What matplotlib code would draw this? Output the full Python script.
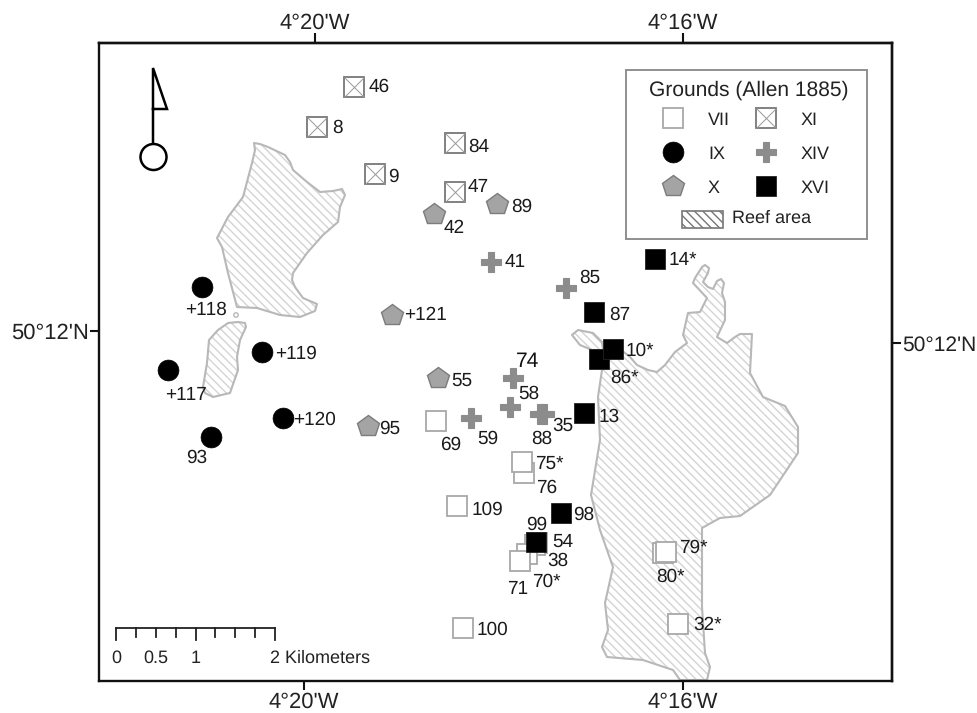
"""Map of oyster grounds and reef areas (Allen 1885). Map units are the sheet coordinates of the figure."""

import matplotlib

matplotlib.use("Agg")
import matplotlib.pyplot as plt
from matplotlib.patches import Circle, Polygon, Rectangle

plt.rcParams["font.family"] = ["Liberation Sans", "DejaVu Sans"]
plt.rcParams["hatch.linewidth"] = 1.0
plt.rcParams["text.hinting"] = "no_hinting"
plt.rcParams["text.hinting_factor"] = 1

# Outlines of the reef areas
REEF_NW = [
    (254, 143), (260, 144), (268, 147), (285, 155), (290, 162), (293, 170), (307, 182), (320, 192),
    (333, 191), (342, 189), (345, 195), (340, 207), (338, 222), (323, 235), (307, 253), (293, 273),
    (292, 280), (295, 287), (303, 298), (317, 304), (315, 311), (300, 317), (280, 315), (257, 308),
    (237, 307), (228, 273), (222, 247), (217, 238), (228, 217), (243, 197), (252, 163), (255, 150),
]
REEF_W = [
    (228, 323), (238, 322), (245, 323), (246, 327), (240, 340), (237, 357), (238, 370), (230, 393),
    (213, 397), (205, 393), (203, 387), (207, 363), (209, 340), (218, 330),
]
REEF_SPIT = [
    (572, 335), (578, 330), (593, 333), (602, 342), (603, 350), (592, 350), (580, 345),
]
REEF_E = [
    (702, 267), (705, 265), (709, 268), (708, 273), (703, 282), (708, 287), (713, 289), (717, 281),
    (721, 279), (724, 283), (722, 293), (725, 302), (725, 320), (717, 337), (727, 343), (735, 337),
    (740, 334), (752, 334), (750, 373), (763, 397), (785, 406), (798, 427), (798, 453), (770, 495),
    (740, 516), (720, 518), (702, 528), (702, 607), (705, 653), (710, 667), (707, 680), (680, 680),
    (673, 670), (643, 660), (607, 657), (602, 647), (608, 630), (605, 603), (613, 567), (600, 530),
    (591, 495), (600, 440), (598, 397), (602, 370), (615, 345), (630, 357), (637, 365), (648, 370),
    (657, 372), (665, 365), (675, 352), (687, 343), (683, 335), (688, 313), (700, 312), (707, 298),
    (693, 283), (695, 278),
]
REEF_SPECK = (236, 315)

# Sampling stations per ground
VII_SITES = [
    (436, 421), (524, 473), (522, 462), (457, 506), (537, 543), (535, 545), (527, 554),
    (520, 561), (463, 628), (663, 553), (666, 552), (678, 624),
]
IX_SITES = [(202, 287), (262, 352), (168, 370), (211, 437), (283, 418)]
X_SITES = [(434, 214), (497, 204), (392, 315), (438, 378), (368, 426)]
XI_SITES = [(354, 87), (317, 127), (375, 174), (455, 143), (455, 192)]
XIV_SITES = [(491, 262), (566, 288), (513, 378), (471, 418), (510, 407), (540, 414), (544, 414)]
XVI_SITES = [(655, 259), (594, 312), (599, 359), (613, 349), (584, 413), (561, 513), (536, 542)]

# Station labels: text, left edge, vertical centre
SITE_LABELS = [
    ("46", 369, 85), ("8", 332, 126), ("9", 388, 175), ("84", 468, 145), ("47", 468, 185),
    ("42", 444, 226), ("89", 511, 205), ("41", 505, 260), ("85", 579, 276), ("87", 609, 313),
    ("14*", 669, 258), ("10*", 626, 349), ("86*", 610, 376), ("13", 599, 415),
    ("+118", 185, 308), ("+119", 275, 352), ("+117", 165, 393), ("93", 186, 456),
    ("+120", 293, 418), ("+121", 404, 313), ("55", 451, 379), ("95", 379, 427),
    ("58", 518, 392), ("59", 477, 437), ("88", 531, 437), ("35", 552, 424), ("69", 440, 443),
    ("75*", 535, 462), ("76", 536, 486), ("109", 472, 508), ("98", 573, 513), ("99", 526, 523),
    ("54", 552, 540), ("38", 547, 559), ("70*", 532, 580), ("71", 507, 587), ("79*", 679, 546),
    ("80*", 656, 575), ("32*", 693, 623), ("100", 477, 628),
]

LON_TOP = [315, 683]
LON_BOTTOM = [304, 683]
LON_LABELS = ["4°20'W", "4°16'W"]
LAT_LEFT = [331]
LAT_RIGHT = [343]
LAT_LABELS = ["50°12'N"]

SCALE_TICKS = [0, 0.25, 0.5, 0.75, 1, 1.25, 1.5, 1.75, 2]
SCALE_LABELS = ["0", "0.5", "1"]
SCALE_LABEL_VALUES = [0, 0.5, 1]

LINE_GREY = "#b8b8b8"
MARK_GREY = "#8c8c8c"
HATCH_GREY = "#d4d4d4"

# Marker styles per ground
STYLE_VII = dict(marker="s", ms=15, mfc="white", mec="#a8a8a8", mew=1.3)
STYLE_IX = dict(marker="o", ms=15, mfc="black", mec="black", mew=0.5)
STYLE_X = dict(marker="p", ms=16, mfc="#a4a4a4", mec="#7c7c7c", mew=1.0)
STYLE_XI = dict(marker="s", ms=15, mfc="white", mec="#777777", mew=1.3)
STYLE_XIV = dict(marker="P", ms=15, mfc=MARK_GREY, mec=MARK_GREY, mew=0.8)
STYLE_XVI = dict(marker="s", ms=15, mfc="black", mec="#222222", mew=0.6)


def draw_marks(ax, x, y, style, crossed=False, zorder=4):
    ax.plot(x, y, ls="none", zorder=zorder, **style)
    if crossed:
        ax.plot(x, y, ls="none", marker="x", ms=14.5, mec="#999999", mew=0.7, zorder=zorder + 1)


def draw_reef(ax, outline):
    ax.add_patch(Polygon(outline, closed=True, fc="white", ec=HATCH_GREY, lw=0, hatch="\\\\\\\\", zorder=1))
    ax.add_patch(Polygon(outline, closed=True, fc="none", ec=LINE_GREY, lw=1.5, joinstyle="round", zorder=2))


fig = plt.figure(figsize=(9.77, 7.13), dpi=100)
ax = fig.add_axes([99 / 977, 1 - 681 / 713, (892 - 99) / 977, (681 - 43) / 713])
ax.set_xlim(99, 892)
ax.set_ylim(681, 43)
for spine in ax.spines.values():
    spine.set_linewidth(1.7)
    spine.set_color("#111111")

ax.set_xticks(LON_BOTTOM, LON_LABELS)
ax.set_yticks(LAT_LEFT, LAT_LABELS)
top = ax.secondary_xaxis("top")
top.set_xticks(LON_TOP, LON_LABELS)
right = ax.secondary_yaxis("right")
right.set_yticks(LAT_RIGHT, LAT_LABELS)
ax.tick_params(axis="x", length=6.5, width=1.5, labelsize=15.5, pad=1.5, color="#111111", labelcolor="#222222")
ax.tick_params(axis="y", length=6.5, width=1.5, labelsize=15.5, pad=0.5, color="#111111", labelcolor="#222222")
top.tick_params(length=7, width=1.5, labelsize=15.5, pad=0, color="#111111", labelcolor="#222222")
right.tick_params(length=6.5, width=1.5, labelsize=15, pad=1, color="#111111", labelcolor="#222222")
for spine in list(top.spines.values()) + list(right.spines.values()):
    spine.set_linewidth(1.7)

# Reefs
for outline in (REEF_NW, REEF_W, REEF_SPIT, REEF_E):
    draw_reef(ax, outline)
ax.add_patch(Circle(REEF_SPECK, 2.2, fc="white", ec=LINE_GREY, lw=1.0, zorder=2))

# Stations
for sites, style, crossed in [
    (VII_SITES, STYLE_VII, False),
    (IX_SITES, STYLE_IX, False),
    (X_SITES, STYLE_X, False),
    (XI_SITES, STYLE_XI, True),
    (XIV_SITES, STYLE_XIV, False),
    (XVI_SITES, STYLE_XVI, False),
]:
    for x, y in sites:
        draw_marks(ax, x, y, style, crossed)

for text, x, y in SITE_LABELS:
    ax.text(x, y, text, fontsize=13.5, ha="left", va="center_baseline", color="#1a1a1a", zorder=6)
ax.text(516, 359, "74", fontsize=15, ha="left", va="center_baseline", color="#111111", zorder=6)

# North arrow
ax.plot([153, 153, 167, 153], [144, 68, 109, 109], color="black", lw=1.8, solid_joinstyle="miter", zorder=3)
ax.add_patch(Circle((153.5, 157), 13, fc="white", ec="black", lw=1.8, zorder=3))

# Scale bar
scale_x = [116 + 79.5 * v for v in SCALE_TICKS]
ax.plot([scale_x[0], scale_x[-1]], [628, 628], color="#222222", lw=1.3, zorder=3)
for v, x in zip(SCALE_TICKS, scale_x):
    tick_end = 640 if v in (0, 1, 2) else 637
    ax.plot([x, x], [628, tick_end], color="#222222", lw=1.3, zorder=3)
for v, text in zip(SCALE_LABEL_VALUES, SCALE_LABELS):
    ax.text(116 + 79.5 * v, 656, text, fontsize=12.7, ha="center", va="center_baseline", color="#222222")
ax.text(116 + 79.5 * 2 - 5, 656, "2 Kilometers", fontsize=12.7, ha="left", va="center_baseline", color="#222222")

# Legend box
ax.add_patch(Rectangle((626, 70), 241, 169, fc="white", ec="#8f8f8f", lw=1.4, zorder=7))
ax.text(749, 90, "Grounds (Allen 1885)", fontsize=15.3, ha="center", va="center", color="#222222", zorder=8)
for x, y, style, crossed, text in [
    (673, 118, STYLE_VII, False, "VII"),
    (673, 152, STYLE_IX, False, "IX"),
    (673, 186, STYLE_X, False, "X"),
    (766, 118, STYLE_XI, True, "XI"),
    (766, 152, STYLE_XIV, False, "XIV"),
    (766, 186, STYLE_XVI, False, "XVI"),
]:
    draw_marks(ax, x, y, style, crossed, zorder=8)
    ax.text(x + 35, y, text, fontsize=13, ha="left", va="center_baseline", color="#222222", zorder=8)
ax.add_patch(Rectangle((682, 211), 41, 17, fc="white", ec="#777777", lw=1.2, hatch="\\\\\\\\", zorder=8))
ax.text(732, 218, "Reef area", fontsize=12.8, ha="left", va="center", color="#222222", zorder=8)

fig.savefig("out.png", dpi=100)
